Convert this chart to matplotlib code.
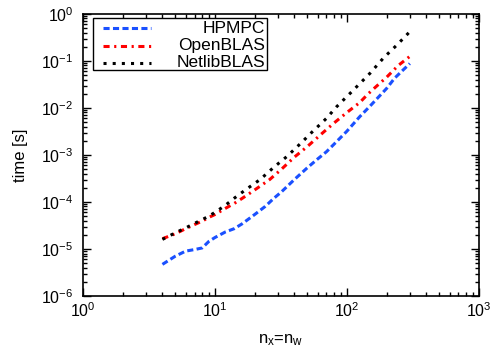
import numpy as np
import matplotlib.pyplot as plt
from matplotlib.ticker import LogLocator, NullFormatter
from matplotlib.patches import Rectangle

plt.rcParams['font.family'] = ['Liberation Sans', 'DejaVu Sans']
plt.rcParams['mathtext.default'] = 'regular'

labels = ['HPMPC', 'OpenBLAS', 'NetlibBLAS']
colors = ['#1a50ff', '#ff0000', 'black']

# HPMPC
n_hp = [4, 5, 6, 7, 8, 9, 10, 12, 14, 16, 20, 24, 28, 32, 40, 50, 60, 70, 80,
        100, 125, 150, 170, 200, 230, 260, 300]
t_hp = [4.7e-6, 7e-6, 9e-6, 9.7e-6, 1.05e-5, 1.45e-5, 1.75e-5, 2.3e-5, 2.7e-5,
        3.4e-5, 5.4e-5, 8e-5, 1.2e-4, 1.65e-4, 3e-4, 5.3e-4, 8.2e-4, 1.17e-3,
        1.7e-3, 3.2e-3, 6.5e-3, 1.1e-2, 1.6e-2, 2.6e-2, 4.3e-2, 6e-2, 8.8e-2]

# OpenBLAS
n_ob = [4, 5, 6, 7, 8, 9, 10, 12, 14, 16, 20, 26, 32, 40, 50, 66, 80, 100,
        125, 145, 170, 200, 245, 300]
t_ob = [1.65e-5, 2.1e-5, 2.7e-5, 3.3e-5, 3.9e-5, 4.7e-5, 5.4e-5, 7.3e-5, 9.3e-5,
        1.18e-4, 1.8e-4, 3e-4, 5e-4, 9e-4, 1.5e-3, 3e-3, 4.8e-3, 8e-3, 1.3e-2,
        2e-2, 3e-2, 4.5e-2, 8e-2, 1.25e-1]

# NetlibBLAS
n_nl = [4, 5, 6, 7, 8, 9, 10, 12, 14, 17, 22, 28, 35, 45, 54, 70, 83, 112,
        150, 190, 240, 300]
t_nl = [1.6e-5, 2.2e-5, 2.8e-5, 3.5e-5, 4.2e-5, 5e-5, 6e-5, 8.5e-5, 1.2e-4,
        1.8e-4, 3e-4, 5.5e-4, 9.2e-4, 1.8e-3, 3e-3, 6e-3, 1.04e-2, 2.4e-2,
        5.5e-2, 1.17e-1, 2.2e-1, 4.2e-1]

styles = [(0, (2.0, 1.1)), (0, (2.0, 1.5, 0.7, 1.5)), (0, (1.0, 2.0))]

fig = plt.figure(figsize=(5.03, 3.57), dpi=100)
ax = fig.add_axes([0.165, 0.171, 0.787, 0.79])

series = [(n_hp, t_hp), (n_ob, t_ob), (n_nl, t_nl)]
for (n, t), lab, c, ls in zip(series, labels, colors, styles):
    ax.plot(n, t, color=c, lw=2.2, ls=ls, label=lab)

ax.set_xscale('log')
ax.set_yscale('log')
ax.set_xlim(1, 1000)
ax.set_ylim(1e-6, 1)

ax.xaxis.set_minor_locator(LogLocator(subs=np.arange(2, 10), numticks=100))
ax.yaxis.set_minor_locator(LogLocator(subs=np.arange(2, 10), numticks=100))
ax.xaxis.set_minor_formatter(NullFormatter())
ax.yaxis.set_minor_formatter(NullFormatter())
ax.tick_params(which='both', direction='in', top=True, right=True, width=1,
               labelsize=11.5)
ax.tick_params(which='major', length=6)
ax.tick_params(which='minor', length=3)
ax.tick_params(axis='x', which='major', pad=4)
ax.tick_params(axis='y', which='major', pad=7)
for s in ax.spines.values():
    s.set_linewidth(1.2)

ax.set_xlabel(r'n$_x$=n$_w$', fontsize=12, labelpad=9)
ax.set_ylabel('time [s]', fontsize=12, labelpad=9)

# gnuplot-style key: samples on the left, labels right-aligned
ax.add_patch(Rectangle((0.026, 0.801), 0.439, 0.185, transform=ax.transAxes,
                       facecolor='white', edgecolor='black', lw=1, zorder=5))
row_y = [0.950, 0.887, 0.826]
for y, lab, c, ls in zip(row_y, labels, colors, styles):
    ax.plot([0.0505, 0.172], [y, y], transform=ax.transAxes, color=c, lw=2.2,
            ls=ls, zorder=6)
    ax.text(0.46, y, lab, transform=ax.transAxes, ha='right', va='center',
            fontsize=12.5, zorder=6)

fig.savefig('out.png', dpi=100)
